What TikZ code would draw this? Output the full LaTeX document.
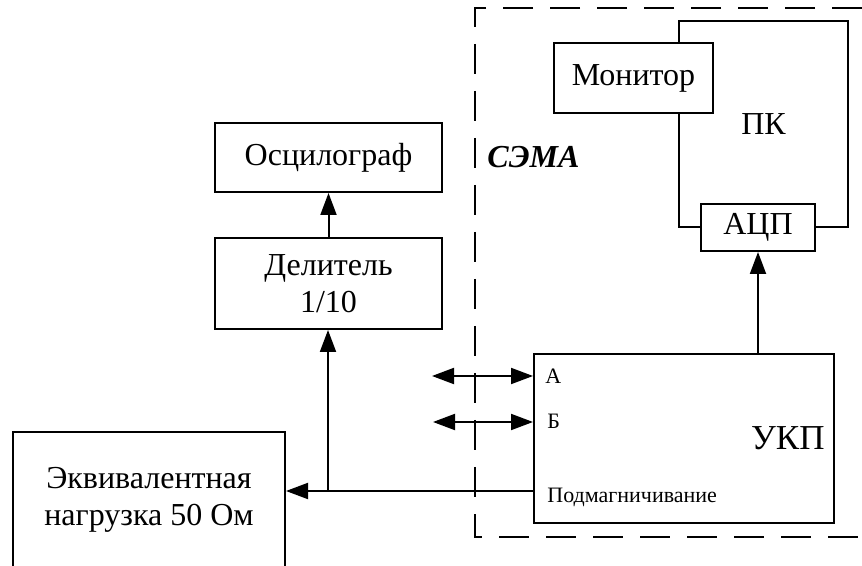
\documentclass[tikz,border=0pt]{standalone}
\usepackage{fontspec}
\setmainfont{Liberation Serif}
\usetikzlibrary{arrows.meta}
\newcommand{\bigtxt}{\fontsize{16}{19.5}\selectfont}
\newcommand{\smalltxt}{\fontsize{11}{13}\selectfont}

\begin{document}
\begin{tikzpicture}[
  x=0.5pt, y=-0.5pt,
  blk/.style={rectangle, draw=black, line width=1pt, fill=white,
              font=\bigtxt, align=center, inner sep=0pt},
  lbl/.style={font=\smalltxt, inner sep=0pt, anchor=west},
  arr/.style={-{Triangle[length=11pt, width=8pt]}, line width=1pt},
  dbl/.style={{Triangle[length=11pt, width=8pt]}-{Triangle[length=11pt, width=8pt]}, line width=1pt},
  frame/.style={dash pattern=on 15pt off 8.5pt, line width=1pt},
]
  \useasboundingbox (0,0) rectangle (862,566);

  % system boundary
  \draw[frame] (862,8) -- (475,8) -- (475,537) -- (862,537);
  \node[font=\bigtxt\bfseries\itshape, inner sep=0pt, anchor=west] (sema) at (487,157) {СЭМА};

  % left part
  \node[blk, minimum width=113.5pt, minimum height=34.5pt] (osc) at (328.5,157.5) {Осцилограф};
  \node[blk, minimum width=113.5pt, minimum height=45.5pt] (div) at (328.5,283.5) {Делитель\\[-1pt]1/10};
  \node[blk, minimum width=136pt, minimum height=68pt] (load) at (149,500)
    {Эквивалентная\\[-1pt]нагрузка 50 Ом};

  % computer
  \node[blk, fill=none, minimum width=84.5pt, minimum height=103pt] (pc) at (763.5,124) {ПК};
  \node[blk, minimum width=79.5pt, minimum height=35pt] (mon) at (633.5,78) {Монитор};
  \node[blk, minimum width=57pt, minimum height=23.5pt] (adc) at (758,227.5) {АЦП};

  % control unit
  \node[blk, minimum width=150pt, minimum height=84.5pt] (ukp) at (684,438.5) {};
  \node[font=\fontsize{17.5}{20}\selectfont, inner sep=0pt, anchor=east] (ukpname) at (825,438) {УКП};
  \node[lbl] (pa) at (545,376) {А};
  \node[lbl] (pb) at (547,421) {Б};
  \node[lbl] (bias) at (547,497) {Подмагничивание};

  \coordinate (ina) at (432,376);
  \coordinate (inb) at (433,422);
  \coordinate (tap) at (328,491);

  \draw[arr] (div.north) -- (osc.south);
  \draw[arr] (ukp.west |- tap) -- (load.east |- tap);
  \draw[arr] (tap) -- (tap |- div.south);
  \draw[dbl] (ina) -- (ukp.west |- ina);
  \draw[dbl] (inb) -- (ukp.west |- inb);
  \draw[arr] (ukp.north -| adc) -- (adc.south);
\end{tikzpicture}
\end{document}
